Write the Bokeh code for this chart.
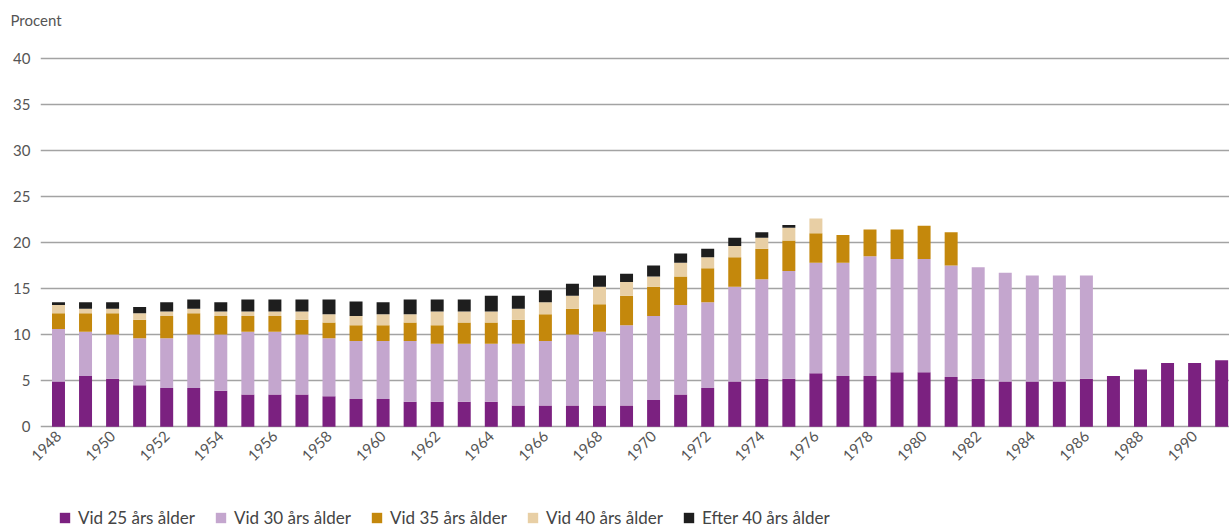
from math import pi
from bokeh.plotting import figure
from bokeh.layouts import column
from bokeh.models import (ColumnDataSource, FixedTicker, Range1d, Title,
                          LinearAxis, Legend)
from bokeh.embed import file_html
from bokeh.resources import INLINE

years = list(range(1948, 1992))

vid25 = [4.9, 5.5, 5.2, 4.5, 4.2, 4.2, 3.9, 3.5, 3.5, 3.5,
         3.3, 3.0, 3.0, 2.7, 2.7, 2.7, 2.7, 2.3, 2.3, 2.3,
         2.3, 2.3, 2.9, 3.5, 4.2, 4.9, 5.2, 5.2, 5.8, 5.5,
         5.5, 5.9, 5.9, 5.4, 5.2, 4.9, 4.9, 4.9, 5.2, 5.5,
         6.2, 6.9, 6.9, 7.2]
vid30 = [5.7, 4.8, 4.8, 5.1, 5.4, 5.8, 6.1, 6.8, 6.8, 6.5,
         6.3, 6.3, 6.3, 6.6, 6.3, 6.3, 6.3, 6.7, 7.0, 7.7,
         8.0, 8.7, 9.1, 9.7, 9.3, 10.3, 10.8, 11.7, 12.0, 12.3,
         13.0, 12.3, 12.3, 12.1, 12.1, 11.8, 11.5, 11.5, 11.2, 0,
         0, 0, 0, 0]
vid35 = [1.7, 2.0, 2.3, 2.0, 2.4, 2.3, 2.0, 1.7, 1.7, 1.6,
         1.7, 1.7, 1.7, 2.0, 2.0, 2.3, 2.3, 2.6, 2.9, 2.8,
         3.0, 3.2, 3.2, 3.1, 3.7, 3.2, 3.3, 3.3, 3.2, 3.0,
         2.9, 3.2, 3.6, 3.6, 0, 0, 0, 0, 0, 0,
         0, 0, 0, 0]
vid40 = [0.9, 0.5, 0.5, 0.7, 0.5, 0.5, 0.5, 0.5, 0.5, 0.9,
         0.9, 1.0, 1.2, 0.9, 1.5, 1.2, 1.2, 1.2, 1.3, 1.4,
         1.9, 1.5, 1.1, 1.5, 1.2, 1.2, 1.2, 1.4, 1.6, 0,
         0, 0, 0, 0, 0, 0, 0, 0, 0, 0,
         0, 0, 0, 0]
efter40 = [0.3, 0.7, 0.7, 0.7, 1.0, 1.0, 1.0, 1.3, 1.3, 1.3,
           1.6, 1.6, 1.3, 1.6, 1.3, 1.3, 1.7, 1.4, 1.3, 1.3,
           1.2, 0.9, 1.2, 1.0, 0.9, 0.9, 0.6, 0.3, 0, 0,
           0, 0, 0, 0, 0, 0, 0, 0, 0, 0,
           0, 0, 0, 0]

series = ["vid25", "vid30", "vid35", "vid40", "efter40"]
labels = ["Vid 25 års ålder", "Vid 30 års ålder", "Vid 35 års ålder",
          "Vid 40 års ålder", "Efter 40 års ålder"]
colors = ["#7B2180", "#C4A6CE", "#C4880C", "#E8CFA5", "#1E1E1E"]
y_ticks = list(range(0, 45, 5))
x_ticks = years[::2]

FONT = "Lato"
TXT = "#555555"

source = ColumnDataSource(dict(year=years, vid25=vid25, vid30=vid30,
                               vid35=vid35, vid40=vid40, efter40=efter40))

# ---------------- main chart ----------------
p = figure(width=1229, height=506, output_backend="svg", toolbar_location=None,
           x_range=Range1d(1947.335, 1991.29), y_range=Range1d(-0.2, 40.4),
           min_border_left=40, min_border_right=0, min_border_top=54,
           min_border_bottom=78, title=None)
p.outline_line_color = None
p.background_fill_color = "white"

p.vbar_stack(series, x="year", width=0.48, color=colors, line_color=None,
             source=source)

p.xgrid.visible = False
p.ygrid.grid_line_color = "#a3a3a3"
p.ygrid.grid_line_width = 1.5
p.ygrid.level = "underlay"

p.yaxis.ticker = FixedTicker(ticks=y_ticks)
p.xaxis.ticker = FixedTicker(ticks=x_ticks)
for ax in (p.xaxis, p.yaxis):
    ax.axis_line_color = None
    ax.major_tick_line_color = None
    ax.minor_tick_line_color = None
    ax.major_tick_out = 0
    ax.major_tick_in = 0
    ax.major_label_text_font = FONT
    ax.major_label_text_font_size = "15px"
    ax.major_label_text_color = TXT
p.yaxis.major_label_standoff = 10
p.xaxis.major_label_standoff = 5
p.xaxis.major_label_orientation = pi / 4

# empty axis that only reserves room between the frame and the title
p.add_layout(LinearAxis(ticker=FixedTicker(ticks=[1960]),
                        major_label_overrides={1960: ""},
                        major_label_text_font_size="1px",
                        major_tick_out=24, major_tick_in=0,
                        minor_tick_out=0, minor_tick_in=0,
                        major_label_standoff=0, axis_line_color=None,
                        major_tick_line_color=None,
                        minor_tick_line_color=None), "above")
p.title = Title(text="Procent", align="left", offset=-30, vertical_align="top",
                standoff=0, text_font=FONT, text_font_size="15px",
                text_font_style="normal", text_color=TXT)

# ---------------- legend strip ----------------
p2 = figure(width=1229, height=22, output_backend="svg", toolbar_location=None,
            x_range=Range1d(0, 1), y_range=Range1d(1000, 1001),
            x_axis_type=None, y_axis_type=None,
            min_border_left=0, min_border_right=0, min_border_top=0,
            min_border_bottom=0, title=None)
p2.outline_line_color = None
rs = p2.vbar_stack(series, x="year", width=0.48, color=colors, line_color=None,
                   source=source)
lg = Legend(items=[(lab, [r]) for lab, r in zip(labels, rs)],
            location=(18, 0), orientation="horizontal",
            padding=0, margin=0, border_line_color=None,
            background_fill_alpha=0, glyph_width=13, glyph_height=13,
            label_height=13, label_standoff=7, spacing=19,
            label_text_font=FONT, label_text_font_size="17px",
            label_text_color="#444444")
p2.add_layout(lg, "center")

layout = column(p, p2, spacing=0)
open("out.html", "w").write(file_html(layout, INLINE))
